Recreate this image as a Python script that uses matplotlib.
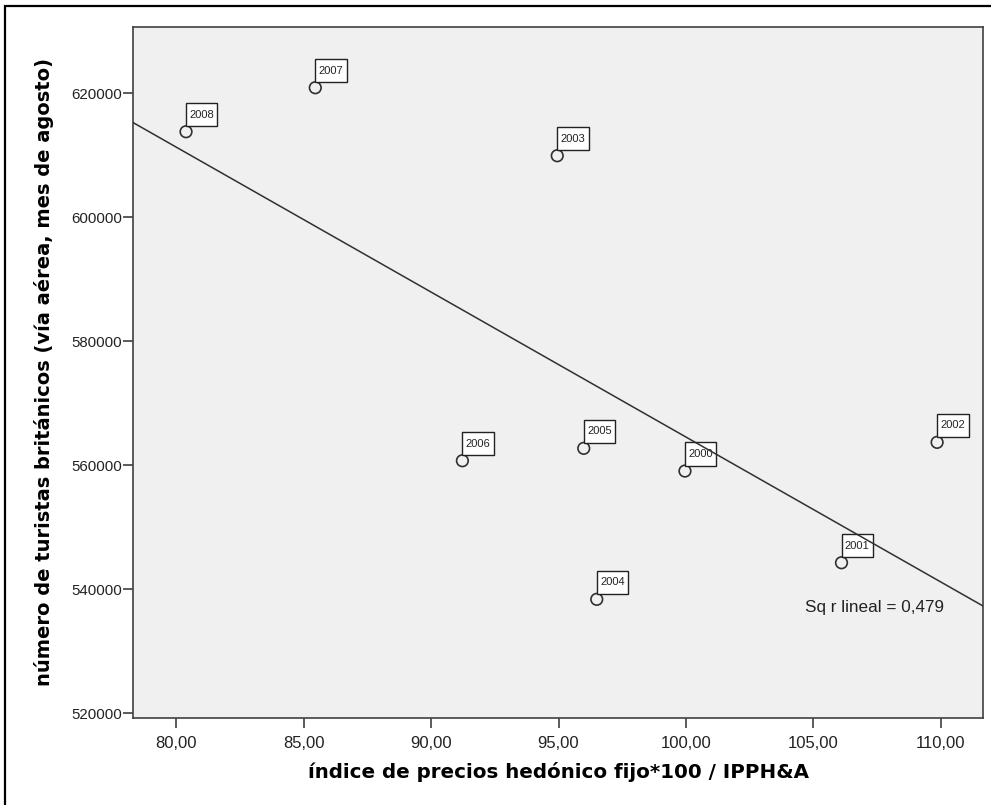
import numpy as np
import matplotlib
matplotlib.use("Agg")
import matplotlib.pyplot as plt
from matplotlib.patches import Rectangle

# datos (agosto, 2000-2008)
years = ["2000", "2001", "2002", "2003", "2004", "2005", "2006", "2007", "2008"]
price_index = [99.96, 106.10, 109.85, 94.95, 96.50, 95.99, 91.23, 85.46, 80.39]
tourists = [559032, 544242, 563660, 609887, 538340, 562694, 560694, 620855, 613760]

x_ticks = [80, 85, 90, 95, 100, 105, 110]
y_ticks = [520000, 540000, 560000, 580000, 600000, 620000]

W, H = 991, 805
fig = plt.figure(figsize=(W / 100, H / 100), dpi=100)
fig.patch.set_facecolor("white")

# marco exterior (solo se ven el borde izquierdo y el superior)
fig.add_artist(Rectangle((5 / W, -0.02), 1.05, 1 - 6 / H + 0.02, transform=fig.transFigure,
                         fill=False, edgecolor="black", linewidth=1.6, clip_on=False))

ax = fig.add_axes([133 / W, 1 - 718 / H, 850 / W, 691 / H])
ax.set_facecolor("#f0f0f0")
for s in ax.spines.values():
    s.set_color("#404040")
    s.set_linewidth(1.2)

ax.set_xlim(78.31, 111.65)
ax.set_ylim(519200, 630650)

ax.scatter(price_index, tourists, s=70, facecolors="none", edgecolors="#303030",
           linewidths=1.2, zorder=3)

# etiquetas de los puntos
for yr, xv, yv in zip(years, price_index, tourists):
    ax.annotate(yr, (xv, yv), xytext=(2.4, 8.6), textcoords="offset points",
                ha="left", va="bottom", fontsize=8, family="Liberation Sans", color="#222222",
                bbox=dict(boxstyle="square,pad=0.3", mutation_aspect=2.0, facecolor="white",
                          edgecolor="#222222", linewidth=1.0), zorder=4)

# recta de regresión lineal
xa = np.array(price_index)
ya = np.array(tourists)
slope, intercept = np.polyfit(xa, ya, 1)
r2 = np.corrcoef(xa, ya)[0, 1] ** 2
xl = np.array(ax.get_xlim())
ax.plot(xl, slope * xl + intercept, color="#303030", linewidth=1.1, zorder=5)

ax.text(104.66, 537100, f"Sq r lineal = {r2:.3f}".replace(".", ","), fontsize=12.3,
        family="Liberation Sans", color="#222222", ha="left", va="center")

ax.set_xticks(x_ticks)
ax.set_xticklabels([f"{v:.2f}".replace(".", ",") for v in x_ticks],
                   fontsize=12, family="Liberation Sans", color="#222222")
ax.set_yticks(y_ticks)
ax.set_yticklabels([str(v) for v in y_ticks], fontsize=10.8, family="Liberation Sans",
                   color="#222222")
ax.tick_params(axis="both", direction="out", length=7, width=1.2, color="#404040")
ax.tick_params(axis="x", pad=6)
ax.tick_params(axis="y", pad=1)

ax.set_xlabel("índice de precios hedónico fijo*100 / IPPH&A", fontsize=14.3,
              fontweight="bold", family="DejaVu Sans", labelpad=8)
ax.set_ylabel("número de turistas británicos (vía aérea, mes de agosto)", fontsize=14,
              fontweight="bold", family="DejaVu Sans", labelpad=12)

fig.savefig("out.png", dpi=100)
